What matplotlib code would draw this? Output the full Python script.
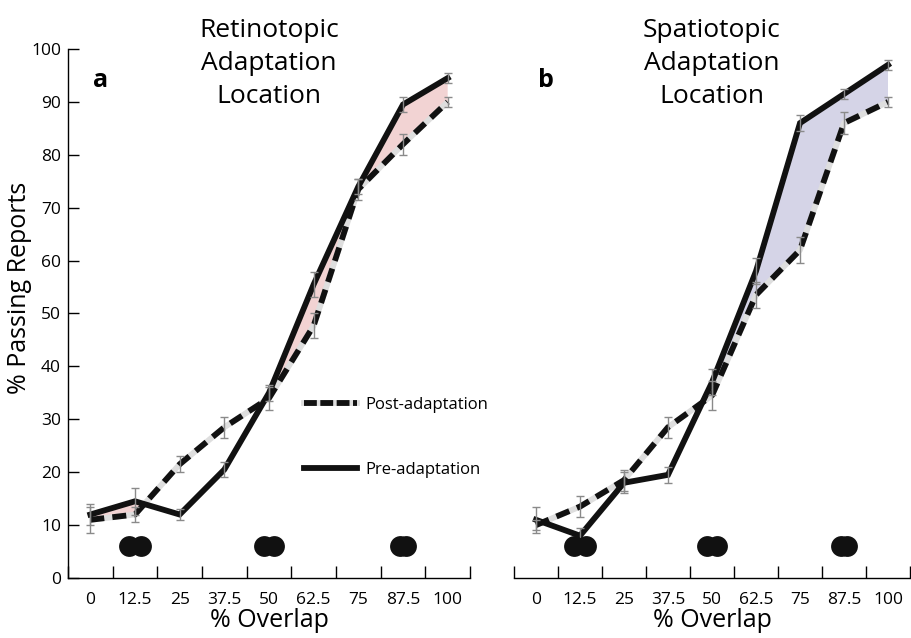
import matplotlib
matplotlib.use("Agg")
import matplotlib.pyplot as plt
from matplotlib.lines import Line2D
import numpy as np

plt.rcParams['font.family'] = ['Open Sans', 'DejaVu Sans']

# overlap conditions (x categories)
overlap = ["0", "12.5", "25", "37.5", "50", "62.5", "75", "87.5", "100"]

# panel a: retinotopic adaptation location
ret_pre = [12, 14.5, 12, 20.5, 35, 55.5, 74, 89.5, 94.5]
ret_pre_err = [2, 2.5, 1, 1.5, 1.5, 2.4, 1.5, 1.5, 1]
ret_post = [11, 12, 21.5, 28.5, 34, 47.7, 73.5, 82, 90]
ret_post_err = [2.5, 1.5, 1.5, 2, 2.2, 2.4, 2, 2, 1]

# panel b: spatiotopic adaptation location
spa_pre = [11, 8, 18, 19.5, 37, 58, 86, 91.5, 97]
spa_pre_err = [2.5, 1.5, 2, 1.5, 2.5, 2.5, 1.5, 1, 1]
spa_post = [10, 13.5, 18.5, 28.5, 34.5, 53.5, 62, 86, 90]
spa_post_err = [1, 2, 2, 2, 2.7, 2.5, 2.5, 2, 1]

# overlap illustration: which conditions get the pair of discs, and disc spacing
disc_conds = [1, 4, 7]
disc_sep = [0.14, 0.11, 0.06]

titles = ["Retinotopic\nAdaptation\nLocation", "Spatiotopic\nAdaptation\nLocation"]
letters = ["a", "b"]
fills = ["#f2d3d3", "#d5d4e7"]

fig = plt.figure(figsize=(9.11, 6.38), dpi=100)
axa = fig.add_axes([68/911, 60/638, 402/911, 529/638])
axb = fig.add_axes([514/911, 60/638, 396/911, 529/638])

x = np.arange(len(overlap))
LW = 4.2
GAP = "#dedede"

panels = [(axa, ret_pre, ret_pre_err, ret_post, ret_post_err),
          (axb, spa_pre, spa_pre_err, spa_post, spa_post_err)]

for i, (ax, pre, pre_e, post, post_e) in enumerate(panels):
    pre = np.array(pre)
    post = np.array(post)
    ax.fill_between(x, pre, post, where=pre >= post, interpolate=True,
                    color=fills[i], lw=0, zorder=1)
    # dashed line: black dashes over light gray
    ax.plot(x, post, color=GAP, lw=LW, solid_capstyle='butt', zorder=2)
    ax.plot(x, post, color="#111111", lw=LW, dashes=(2.4, 1.4),
            dash_capstyle='butt', zorder=3)
    ax.plot(x, pre, color="#111111", lw=LW, solid_joinstyle='miter', zorder=4)
    ax.errorbar(x, post, yerr=post_e, fmt='none', ecolor="#8a8a8a",
                elinewidth=1, capsize=3, capthick=1, zorder=5)
    ax.errorbar(x, pre, yerr=pre_e, fmt='none', ecolor="#8a8a8a",
                elinewidth=1, capsize=3, capthick=1, zorder=5)

    # pairs of discs illustrating stimulus overlap
    for c, s in zip(disc_conds, disc_sep):
        ax.plot([c - s, c + s], [6, 6], 'o', color="#111111", ms=15,
                mec='none', zorder=6)

    ax.set_xlim(-0.5, 8.5)
    ax.set_ylim(0, 100)
    ax.set_xticks(x)
    ax.set_xticklabels(overlap, fontsize=12.5)
    ax.set_xticks(np.arange(-0.5, 9, 1), minor=True)
    ax.tick_params(axis='x', which='major', length=0, pad=10)
    ax.tick_params(axis='x', which='minor', direction='in', length=9,
                   width=1)
    ax.set_xlabel("% Overlap", fontsize=18, labelpad=0)
    for sp in ['top', 'right']:
        ax.spines[sp].set_visible(False)
    ax.spines['bottom'].set_linewidth(1)
    ax.text(0.5, 0.972, titles[i], transform=ax.transAxes, ha='center',
            va='center', fontsize=19, linespacing=1.42)
    ax.text(0.08, 0.94, letters[i], transform=ax.transAxes, ha='center',
            va='center', fontsize=18, fontweight='bold')

axa.set_yticks(np.arange(0, 101, 10))
axa.tick_params(axis='y', direction='in', length=8, width=1, labelsize=12.5,
                pad=5)
axa.spines['left'].set_linewidth(1)
axa.set_ylabel("% Passing Reports", fontsize=18, va='center')
axa.yaxis.set_label_coords(-0.12, 0.548)

axb.spines['left'].set_visible(False)
axb.set_yticks([])

handles = [(Line2D([], [], color=GAP, lw=LW),
            Line2D([], [], color="#111111", lw=LW, dashes=(2.2, 0.6))),
           Line2D([], [], color="#111111", lw=LW)]
axa.legend(handles, ["Post-adaptation", "Pre-adaptation"], loc='upper left',
           bbox_to_anchor=(0.55, 0.37), frameon=False, fontsize=12,
           handlelength=3.2, handletextpad=0.5, labelspacing=2.9)

fig.savefig("out.png", dpi=100)
